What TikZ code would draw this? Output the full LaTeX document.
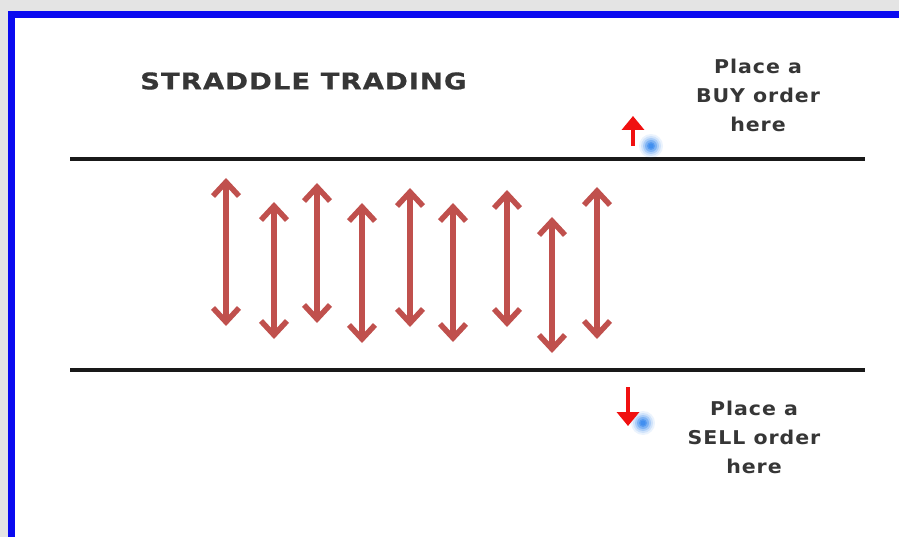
\documentclass[tikz,border=0pt]{standalone}
\usepackage{fontspec}
\setmainfont{DejaVu Sans}
\newfontfamily\titlefont[FakeStretch=1.2,LetterSpace=4,FakeBold=0.6]{DejaVu Sans Bold}
\newfontfamily\labelfont[FakeStretch=1.08,LetterSpace=5]{DejaVu Sans Bold}
\usetikzlibrary{arrows.meta}
\definecolor{framegray}{HTML}{E4E4E4}
\definecolor{frameblue}{HTML}{0A0AF0}
\definecolor{txtgray}{HTML}{363636}
\definecolor{swing}{HTML}{C0504D}
\definecolor{hotred}{HTML}{F01010}
\definecolor{glow}{HTML}{3C8CF0}
\tikzset{
  level/.style={line width=3.5pt, draw=black!90},
  swingarrow/.style={line width=5.5pt, draw=swing, {Straight Barb[length=14pt,width=26pt]}-{Straight Barb[length=14pt,width=26pt]}},
  orderarrow/.style={line width=4pt, draw=hotred, -{Triangle[length=14pt,width=22pt]}},
  label/.style={font=\labelfont\fontsize{19}{29}\selectfont, text=txtgray, align=center, inner sep=0pt},
  title/.style={font=\titlefont\fontsize{23}{28}\selectfont, text=txtgray, inner sep=0pt}
}
\newcommand{\glowdot}[1]{%
  \foreach \r/\o in {12/0.1,10/0.15,8/0.25,6/0.4,4/0.6,2.5/0.8}{\fill[glow, opacity=\o] #1 circle (\r pt);}}
\begin{document}
\begin{tikzpicture}[x=1pt,y=-1pt]
\useasboundingbox (0,0) rectangle (899,537);
% frame
\fill[framegray] (0,0) rectangle (899,537);
\fill[frameblue] (8,11) rectangle (899,537);
\fill[white] (15,18) rectangle (899,537);
% title
\node[title, anchor=west] (title) at (140,81) {STRADDLE TRADING};
% level lines
\coordinate (tl) at (70,159);
\coordinate (tr) at (865,159);
\coordinate (bl) at (70,370);
\coordinate (br) at (865,370);
\draw[level] (tl) -- (tr);
\draw[level] (bl) -- (br);
% swinging price arrows
\foreach \i/\x/\t/\b in {1/226/178/326, 2/274/202/339, 3/317/183/323, 4/362/203/343, 5/410/188/327, 6/453/203/342, 7/507/190/327, 8/552/217/353, 9/597/187/339}{
  \coordinate (a\i t) at (\x,\t);
  \coordinate (a\i b) at (\x,\b);
  \draw[swingarrow] (a\i t) -- (a\i b);
}
% labels
\node[label] (buy) at (758,95) {Place a\\BUY order\\here};
\node[label] (sell) at (754,437) {Place a\\SELL order\\here};
% small order arrows with glow dots
\glowdot{(651,146)}
\coordinate (ub) at (633,146);
\coordinate (ut) at (633,116);
\draw[orderarrow] (ub) -- (ut);
\glowdot{(643,423)}
\coordinate (dt) at (628,387);
\coordinate (db) at (628,426);
\draw[orderarrow] (dt) -- (db);
\end{tikzpicture}
\end{document}
